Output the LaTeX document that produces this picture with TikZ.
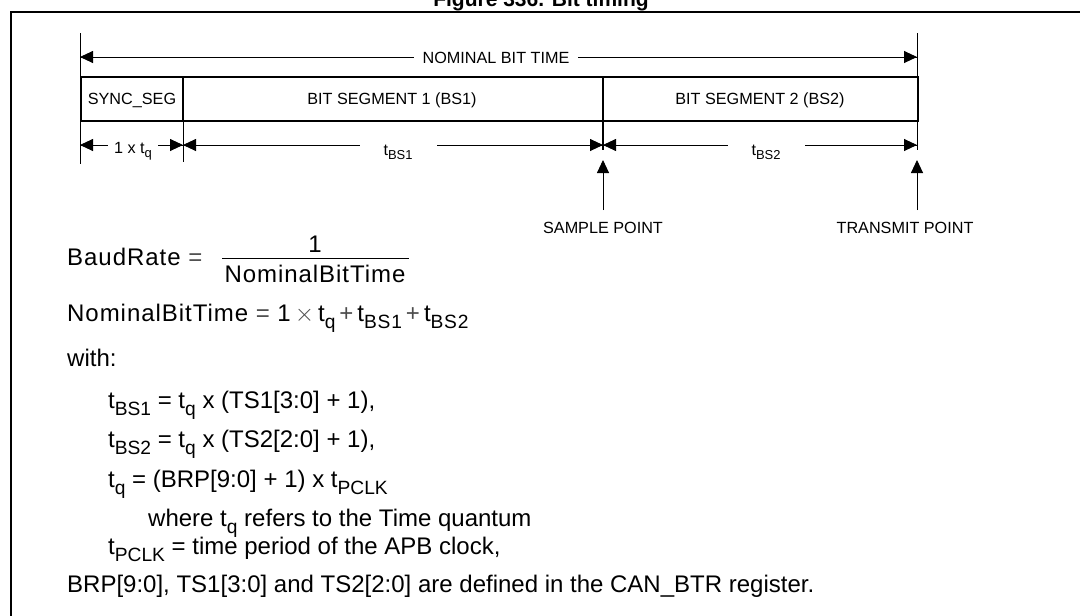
\documentclass[tikz,border=0pt]{standalone}
\usepackage{fontspec}
\setmainfont{Liberation Sans}
\usetikzlibrary{arrows.meta}
\newcommand{\lowsub}[1]{\raisebox{-0.3em}{\scalebox{0.8}{#1}}}
\begin{document}
\begin{tikzpicture}[x=1pt,y=-1pt,
  tip/.style={-{Triangle[length=13pt,width=12pt]}},
  dim/.style={line width=0.9pt},
  lbl/.style={font=\fontsize{16.2}{18}\selectfont, inner sep=0pt, anchor=base},
  gap/.style={lbl, fill=white, inner xsep=6pt, inner ysep=3pt},
  frm/.style={font=\fontsize{24}{26}\selectfont, inner sep=0pt, anchor=base west},
  fy/.style={font=\fontsize{24}{26}\selectfont\addfontfeature{LetterSpace=4}, inner sep=0pt}]
\useasboundingbox (0,0) rectangle (1080,616);
\clip (0,0) rectangle (1080,616);
% title
\node[font=\fontsize{21}{22}\selectfont\bfseries, inner sep=0pt, anchor=base] (title) at (541,6) {Figure 336. Bit timing};
% frame
\coordinate (fA) at (11,616); \coordinate (fB) at (11,12); \coordinate (fC) at (1080,12);
\draw[line width=1.2pt] (fA) -- (fB) -- (fC);
% verticals
\coordinate (v0t) at (80,33); \coordinate (v0b) at (80,164);
\coordinate (v1t) at (183,121); \coordinate (v1b) at (183,162);
\coordinate (v3t) at (917,33); \coordinate (v3b) at (917,150);
\draw[dim] (v0t) -- (v0b);
\draw[dim] (v1t) -- (v1b);
\draw[dim] (v3t) -- (v3b);
% box
\draw[line width=1.3pt] (81,77) rectangle (918,121);
\draw[line width=1.3pt] (183,77) -- (183,121);
\draw[line width=1.3pt] (603,77) -- (603,150);
\node[lbl] (sync) at (132,104) {SYNC\_SEG};
\node[lbl] (bs1) at (392,104) {BIT SEGMENT 1 (BS1)};
\node[lbl] (bs2) at (760,104) {BIT SEGMENT 2 (BS2)};
% nominal bit time
\coordinate (n0) at (80,57); \coordinate (n1) at (917,57);
\draw[dim,tip] (n1) -- (n0);
\draw[dim,tip] (n0) -- (n1);
\node[gap, inner xsep=9pt] (nbt) at (496,63) {NOMINAL BIT TIME};
% lower dimension
\coordinate (a0) at (80,145); \coordinate (a1) at (183,145);
\coordinate (a2) at (603,145); \coordinate (a3) at (917,145);
\draw[dim,tip] (a1) -- (a0); \draw[dim,tip] (a0) -- (a1);
\draw[dim,tip] (a2) -- (a1); \draw[dim,tip] (a1) -- (a2);
\draw[dim,tip] (a3) -- (a2); \draw[dim,tip] (a2) -- (a3);
\node[gap] (tq) at (133,153) {1 x t\lowsub{q}};
\node[gap, inner xsep=24pt] (tbs1) at (398,155) {t\lowsub{BS1}};
\node[gap, inner xsep=24pt] (tbs2) at (766,155) {t\lowsub{BS2}};
% sample / transmit
\coordinate (s0) at (603,210); \coordinate (s1) at (603,160);
\coordinate (t0) at (917,210); \coordinate (t1) at (917,160);
\draw[dim,tip] (s0) -- (s1);
\draw[dim,tip] (t0) -- (t1);
\node[lbl] (sp) at (603,233) {SAMPLE POINT};
\node[lbl] (tp) at (905,233) {TRANSMIT POINT};
% formulas
\node[fy, anchor=base west] (br) at (67,265) {BaudRate {\addfontfeature{LetterSpace=0}\color{black!70}=}};
\coordinate (fl0) at (222,258); \coordinate (fl1) at (409,258);
\draw[line width=1pt] (fl0) -- (fl1);
\node[fy, anchor=base] (one) at (315,252) {1};
\node[fy, anchor=base] (den) at (315,282) {NominalBitTime};
\node[fy, anchor=base west] (nbtf) at (67,321) {NominalBitTime {\addfontfeature{LetterSpace=0}\color{black!70}=} 1\,{\color{black!70}$\times$}\,t\lowsub{q}\,{\color{black!70}+}\,t\lowsub{BS1}\,{\color{black!70}+}\,t\lowsub{BS2}};
\node[frm] (with) at (67,366) {with:};
\node[frm] (e1) at (108,408) {t\lowsub{BS1} = t\lowsub{q} x (TS1[3:0] + 1),};
\node[frm] (e2) at (108,447) {t\lowsub{BS2} = t\lowsub{q} x (TS2[2:0] + 1),};
\node[frm] (e3) at (108,487) {t\lowsub{q} = (BRP[9:0] + 1) x t\lowsub{PCLK}};
\node[frm] (e4) at (148,526) {where t\lowsub{q} refers to the Time quantum};
\node[frm] (e5) at (108,554) {t\lowsub{PCLK} = time period of the APB clock,};
\node[frm] (e6) at (67,592) {BRP[9:0], TS1[3:0] and TS2[2:0] are defined in the CAN\_BTR register.};
\end{tikzpicture}
\end{document}
